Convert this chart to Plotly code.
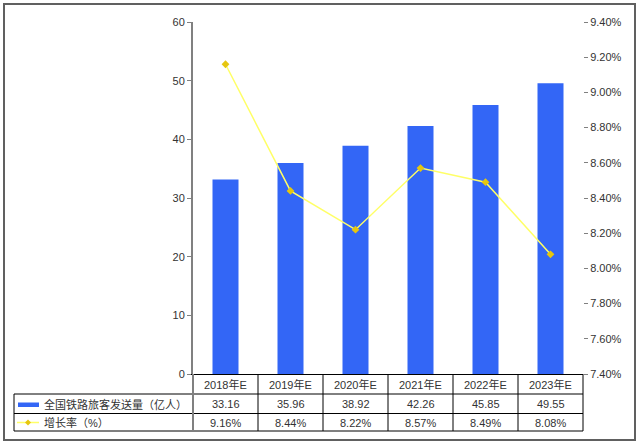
import plotly.graph_objects as go

# ---- data ----
categories = ["2018年E", "2019年E", "2020年E", "2021年E", "2022年E", "2023年E"]
passengers = [33.16, 35.96, 38.92, 42.26, 45.85, 49.55]          # 全国铁路旅客发送量（亿人）
growth_pct = [9.16, 8.44, 8.22, 8.57, 8.49, 8.08]                # 增长率（%）
series_names = ["全国铁路旅客发送量（亿人）", "增长率（%）"]

# ---- geometry (pixels) ----
W, H = 640, 446
L, R, T, B = 193, 57, 22, 72
PW, PH = W - L - R, H - T - B


def px(x):
    return (x - L) / PW


def py(y):
    return (H - B - y) / PH


BAR_COLOR = "#3366F6"
LINE_COLOR = "#FFFF66"
MARK_COLOR = "#E6C60E"
TXT = "#333333"
FONT = "Liberation Sans, Arial, Noto Sans CJK SC, sans-serif"

fig = go.Figure()
fig.add_bar(x=categories, y=passengers, marker_color=BAR_COLOR, marker_line_width=0,
            width=0.4, yaxis="y", name=series_names[0])
fig.add_scatter(x=categories, y=[g / 100 for g in growth_pct], yaxis="y2",
                mode="lines+markers", name=series_names[1],
                line=dict(color=LINE_COLOR, width=1.5),
                marker=dict(symbol="diamond", size=6, color=MARK_COLOR))

shapes = []
line_k = dict(color="black", width=1)
# table horizontal lines
for yy in (394, 413.5, 431):
    shapes.append(dict(type="line", xref="paper", yref="paper", x0=px(14), x1=1,
                       y0=py(yy), y1=py(yy), line=line_k))
# table left border
shapes.append(dict(type="line", xref="paper", yref="paper", x0=px(14), x1=px(14),
                   y0=py(394), y1=py(431), line=line_k))
# column separators
for k in range(1, len(categories) + 1):
    xx = k / len(categories)
    shapes.append(dict(type="line", xref="paper", yref="paper", x0=xx, x1=xx,
                       y0=0, y1=py(431), line=line_k))
# left axis extension through table
shapes.append(dict(type="line", xref="paper", yref="paper", x0=0, x1=0,
                   y0=0, y1=py(431), line=dict(color="#808080", width=2)))
# outer border
shapes.append(dict(type="rect", xref="paper", yref="paper", x0=px(4), x1=px(635),
                   y0=py(440), y1=py(4), line=dict(color="#606060", width=2)))
# legend keys
shapes.append(dict(type="rect", xref="paper", yref="paper", x0=px(18), x1=px(39),
                   y0=py(407), y1=py(402.5), fillcolor=BAR_COLOR, line=dict(width=0)))
shapes.append(dict(type="line", xref="paper", yref="paper", x0=px(17), x1=px(39),
                   y0=py(422.5), y1=py(422.5), line=dict(color=LINE_COLOR, width=1.5)))
cx, cy, r = 28, 422.5, 3
shapes.append(dict(type="path", xref="paper", yref="paper",
                   path=f"M {px(cx - r)} {py(cy)} L {px(cx)} {py(cy - r)} L {px(cx + r)} {py(cy)} L {px(cx)} {py(cy + r)} Z",
                   fillcolor=MARK_COLOR, line=dict(width=0)))

annotations = []
for c, v, g in zip(categories, passengers, growth_pct):
    annotations.append(dict(x=c, xref="x", y=py(384), yref="paper", text=c,
                            showarrow=False, xanchor="center", yanchor="middle"))
    annotations.append(dict(x=c, xref="x", y=py(404), yref="paper", text=f"{v:.2f}",
                            showarrow=False, xanchor="center", yanchor="middle"))
    annotations.append(dict(x=c, xref="x", y=py(422.5), yref="paper", text=f"{g:.2f}%",
                            showarrow=False, xanchor="center", yanchor="middle"))
for name, yy in zip(series_names, (404, 422.5)):
    annotations.append(dict(x=px(42), xref="paper", y=py(yy), yref="paper", text=name,
                            showarrow=False, xanchor="left", yanchor="middle"))

fig.update_layout(
    width=W, height=H,
    margin=dict(l=L, r=R, t=T, b=B),
    paper_bgcolor="white", plot_bgcolor="white",
    font=dict(family=FONT, size=11, color=TXT),
    showlegend=False,
    bargap=0.6,
    xaxis=dict(type="category", range=[-0.5, len(categories) - 0.5],
               showticklabels=False, ticks="", showgrid=False, zeroline=False,
               showline=True, linecolor="black", linewidth=1),
    yaxis=dict(range=[0, 60], dtick=10, tick0=0, ticks="outside", ticklen=4,
               tickcolor="#808080", showgrid=False, zeroline=False,
               showline=True, linecolor="#808080", linewidth=2),
    yaxis2=dict(overlaying="y", side="right", range=[0.074, 0.094], dtick=0.002,
                tick0=0.074, tickformat=".2%", ticks="outside", ticklen=4,
                tickcolor="#808080", showgrid=False, zeroline=False, showline=False),
    shapes=shapes,
    annotations=annotations,
)

fig.write_html("out.html", config={"displayModeBar": False},
               post_script="document.body.style.margin='0px';document.body.style.overflow='hidden';")
